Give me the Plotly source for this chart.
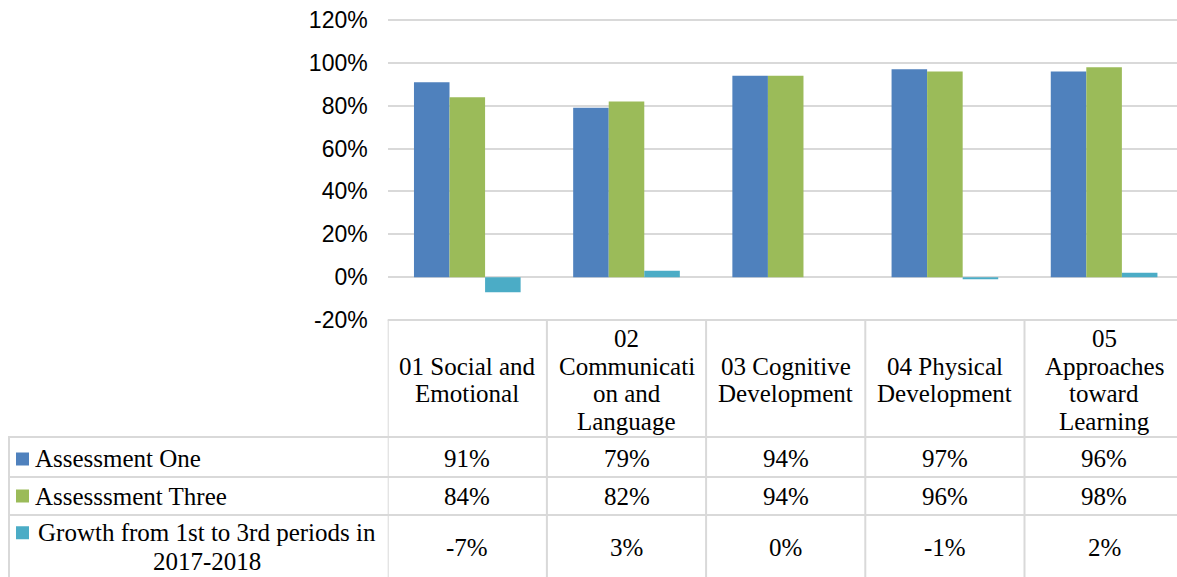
import plotly.graph_objects as go

# ---------------- data ----------------
categories = [
    "01 Social and Emotional",
    "02 Communication and Language",
    "03 Cognitive Development",
    "04 Physical Development",
    "05 Approaches toward Learning",
]
header_lines = [
    ["01 Social and", "Emotional"],
    ["02", "Communicati", "on and", "Language"],
    ["03 Cognitive", "Development"],
    ["04 Physical", "Development"],
    ["05", "Approaches", "toward", "Learning"],
]
series_names = ["Assessment One", "Assesssment Three", "Growth from 1st to 3rd periods in 2017-2018"]
series_label_lines = [["Assessment One"], ["Assesssment Three"], ["Growth from 1st to 3rd periods in", "2017-2018"]]
assessment_one = [0.91, 0.79, 0.94, 0.97, 0.96]
assessment_three = [0.84, 0.82, 0.94, 0.96, 0.98]
growth = [-0.07, 0.03, 0.00, -0.01, 0.02]
series_colors = ["#4F81BD", "#9BBB59", "#4BACC6"]
tick_values = [-0.2, 0.0, 0.2, 0.4, 0.6, 0.8, 1.0, 1.2]
tick_labels = ["-20%", "0%", "20%", "40%", "60%", "80%", "100%", "120%"]

# ---------------- layout helpers (page pixel coords) ----------------
W, H = 1177, 577
def X(p):
    return p / W
def Y(p):
    return 1 - p / H

PLOT_LEFT = 387.7
CAT_W = 159.2
PLOT_TOP = 20
PLOT_BOTTOM = 320
ROW_LINES = [437, 477, 515]
GRID = "#D9D9D9"
SERIF = "Liberation Serif"
TFONT = dict(family=SERIF, size=25, color="#000000")

series_values = [assessment_one, assessment_three, growth]
xs = list(range(len(categories)))

fig = go.Figure()
for name, vals, col in zip(series_names, series_values, series_colors):
    fig.add_trace(go.Bar(x=xs, y=vals, name=name, marker=dict(color=col, line=dict(width=0)),
                         hoverinfo="name+y"))

shapes = []
line = dict(color=GRID, width=2)
# header top line
shapes.append(dict(type="line", xref="paper", yref="paper", x0=X(PLOT_LEFT), x1=1, y0=Y(PLOT_BOTTOM), y1=Y(PLOT_BOTTOM), line=line, layer="above"))
# row lines
for ry in ROW_LINES:
    shapes.append(dict(type="line", xref="paper", yref="paper", x0=X(8), x1=1, y0=Y(ry), y1=Y(ry), line=line))
# left border of label column
shapes.append(dict(type="line", xref="paper", yref="paper", x0=X(9), x1=X(9), y0=Y(ROW_LINES[0]), y1=0, line=line))
# column dividers
for i in range(len(categories)):
    shapes.append(dict(type="line", xref="x", yref="paper", x0=i - 0.5, x1=i - 0.5, y0=Y(PLOT_BOTTOM), y1=0, line=line))

annotations = []
# header texts
LS = 27.7
hc = 380
for i, lines in enumerate(header_lines):
    n = len(lines)
    for k, t in enumerate(lines):
        yc = hc + (k - (n - 1) / 2) * LS
        annotations.append(dict(x=i, xref="x", y=Y(yc), yref="paper", text=t, showarrow=False,
                                xanchor="center", yanchor="middle", font=TFONT))

# row labels, legend keys and values
row_centers = [459, 496, 547]
for r, (lines, col, vals) in enumerate(zip(series_label_lines, series_colors, series_values)):
    yc = row_centers[r]
    if len(lines) == 1:
        annotations.append(dict(x=X(33), xref="paper", y=Y(yc), yref="paper", text=lines[0], showarrow=False,
                                xanchor="left", yanchor="middle", font=TFONT))
        sq = yc
    else:
        n = len(lines)
        for k, t in enumerate(lines):
            ly = yc + (k - (n - 1) / 2) * 28.5
            annotations.append(dict(x=X(207), xref="paper", y=Y(ly), yref="paper", text=t, showarrow=False,
                                    xanchor="center", yanchor="middle", font=TFONT))
        sq = yc - 14.25
    shapes.append(dict(type="rect", xref="paper", yref="paper", x0=X(16), x1=X(29), y0=Y(sq - 6.5), y1=Y(sq + 6.5),
                       fillcolor=col, line=dict(width=0)))
    for i, v in enumerate(vals):
        annotations.append(dict(x=i, xref="x", y=Y(yc), yref="paper", text=f"{round(v * 100):d}%", showarrow=False,
                                xanchor="center", yanchor="middle", font=TFONT))

fig.update_layout(
    width=W, height=H,
    margin=dict(l=0, r=0, t=0, b=0, pad=0),
    paper_bgcolor="white", plot_bgcolor="white",
    showlegend=False,
    barmode="group", bargap=0.33, bargroupgap=0,
    xaxis=dict(domain=[X(PLOT_LEFT), 1], range=[-0.5, -0.5 + (W - PLOT_LEFT) / CAT_W],
               showgrid=False, zeroline=False, showticklabels=False, showline=False, fixedrange=True,
               automargin=False),
    yaxis=dict(domain=[Y(PLOT_BOTTOM), Y(PLOT_TOP) + 0.002], range=[-0.2, 1.2 + 0.002 * H / 300 * 1.4],
               tickvals=tick_values, ticktext=tick_labels,
               showgrid=True, gridcolor=GRID, gridwidth=2, zeroline=False, showline=False,
               tickfont=dict(family="Liberation Sans", size=23, color="#000000"), ticklabelstandoff=19,
               fixedrange=True, automargin=False),
    shapes=shapes,
    annotations=annotations,
)

fig.write_html(
    "out.html",
    config={"displayModeBar": False},
    post_script="document.body.style.margin='0';document.body.style.overflow='hidden';",
)
